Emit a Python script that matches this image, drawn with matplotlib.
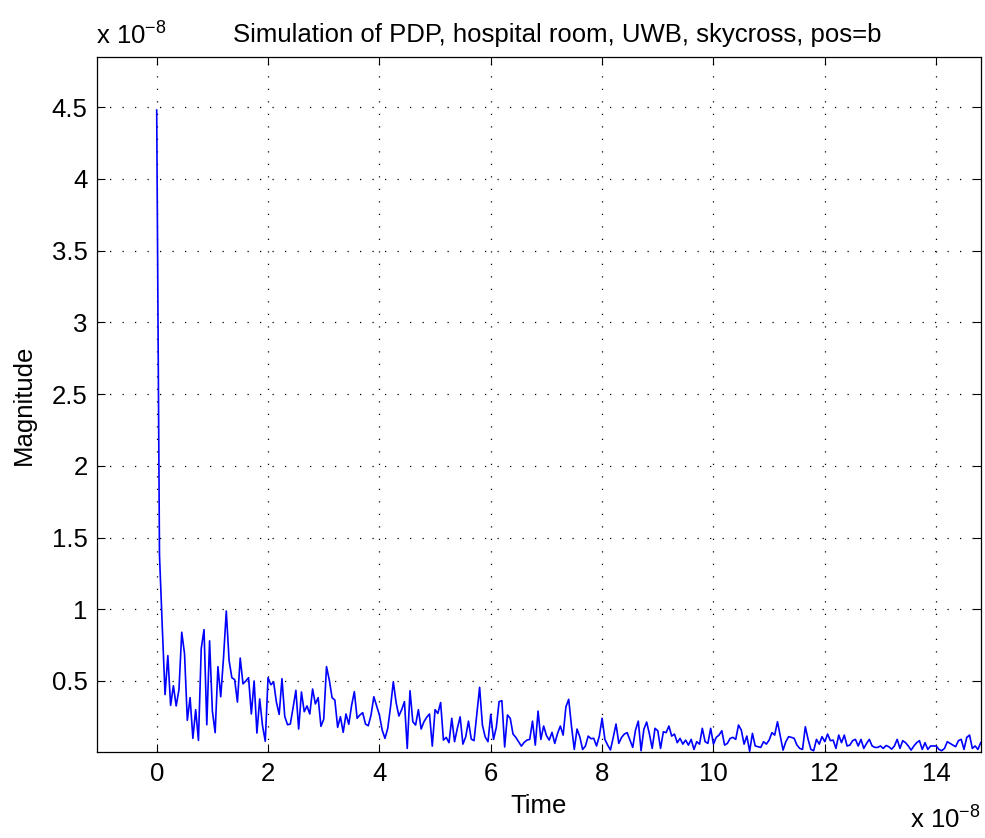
import numpy as np
import matplotlib
matplotlib.use('Agg')
import matplotlib.pyplot as plt

# power delay profile, magnitude in units of 1e-8, one sample every 0.05e-8 s
dt = 0.05
magnitude = [
    4.48, 1.38, 0.88, 0.405, 0.677, 0.33, 0.467, 0.326, 0.44, 0.84,
    0.69, 0.226, 0.384, 0.10, 0.30, 0.086, 0.726, 0.858, 0.195, 0.78,
    0.29, 0.14, 0.60, 0.39, 0.66, 0.988, 0.644, 0.523, 0.51, 0.353,
    0.66, 0.48, 0.50, 0.523, 0.27, 0.50, 0.137, 0.375, 0.19, 0.08,
    0.523, 0.474, 0.493, 0.353, 0.267, 0.516, 0.253, 0.195, 0.20, 0.314,
    0.435, 0.165, 0.423, 0.286, 0.326, 0.27, 0.444, 0.34, 0.384, 0.184,
    0.233, 0.60, 0.507, 0.384, 0.367, 0.177, 0.251, 0.142, 0.27, 0.198,
    0.328, 0.426, 0.24, 0.263, 0.279, 0.20, 0.188, 0.263, 0.39, 0.326,
    0.263, 0.158, 0.10, 0.17, 0.32, 0.495, 0.35, 0.256, 0.30, 0.356,
    0.03, 0.432, 0.216, 0.193, 0.30, 0.165, 0.216, 0.247, 0.27, 0.046,
    0.30, 0.274, 0.35, 0.088, 0.107, 0.07, 0.24, 0.077, 0.17, 0.25,
    0.06, 0.11, 0.22, 0.095, 0.084, 0.27, 0.456, 0.193, 0.11, 0.077,
    0.267, 0.093, 0.177, 0.356, 0.363, 0.04, 0.263, 0.24, 0.13, 0.107,
    0.077, 0.046, 0.072, 0.088, 0.093, 0.22, 0.053, 0.29, 0.093, 0.186,
    0.12, 0.088, 0.142, 0.065, 0.135, 0.186, 0.123, 0.32, 0.372, 0.186,
    0.023, 0.165, 0.11, 0.023, 0.046, 0.116, 0.098, 0.10, 0.047, 0.116,
    0.24, 0.093, 0.053, 0.019, 0.107, 0.20, 0.065, 0.107, 0.13, 0.14,
    0.088, 0.037, 0.158, 0.22, 0.014, 0.163, 0.214, 0.13, 0.03, 0.17,
    0.153, 0.03, 0.146, 0.14, 0.186, 0.116, 0.13, 0.07, 0.10, 0.06,
    0.088, 0.053, 0.093, 0.023, 0.077, 0.06, 0.17, 0.077, 0.065, 0.17,
    0.06, 0.107, 0.123, 0.153, 0.053, 0.065, 0.10, 0.107, 0.093, 0.193,
    0.158, 0.06, 0.116, 0.01, 0.135, 0.047, 0.042, 0.037, 0.077, 0.06,
    0.088, 0.14, 0.123, 0.216, 0.116, 0.018, 0.077, 0.112, 0.107, 0.10,
    0.053, 0.03, 0.023, 0.181, 0.093, 0.023, 0.014, 0.093, 0.06, 0.112,
    0.077, 0.13, 0.084, 0.088, 0.03, 0.123, 0.07, 0.123, 0.047, 0.053,
    0.084, 0.093, 0.047, 0.093, 0.03, 0.065, 0.093, 0.047, 0.037, 0.037,
    0.047, 0.03, 0.05, 0.042, 0.025, 0.047, 0.093, 0.03, 0.084, 0.07,
    0.047, 0.018, 0.047, 0.07, 0.084, 0.023, 0.07, 0.023, 0.047, 0.047,
    0.047, 0.023, 0.014, 0.03, 0.077, 0.065, 0.053, 0.042, 0.084, 0.093,
    0.023, 0.107, 0.123, 0.03, 0.047, 0.023, 0.07,
]
time = dt * np.arange(len(magnitude))

xticks = [0, 2, 4, 6, 8, 10, 12, 14]
yticks = [0.5, 1, 1.5, 2, 2.5, 3, 3.5, 4, 4.5]
ytick_labels = ['0.5', '1', '1.5', '2', '2.5', '3', '3.5', '4', '4.5']

plt.rcParams['font.family'] = ['Liberation Sans', 'DejaVu Sans']
plt.rcParams['mathtext.default'] = 'regular'
fs = 18.5

fig = plt.figure(figsize=(9.85, 8.38), dpi=100)
W, H = 985, 838
ax = fig.add_axes([97.4 / W, 1 - 752 / H, (980.7 - 97.4) / W, (752 - 57) / H])

ax.plot(time, magnitude, color='#0000ff', lw=1.2)

ax.set_xlim(-1.065, 14.8)
ax.set_ylim(0.005, 4.85)
ax.set_xticks(xticks)
ax.set_xticklabels([str(t) for t in xticks])
ax.set_yticks(yticks)
ax.set_yticklabels(ytick_labels)

ax.grid(True, color='black', lw=0.9, linestyle=(0, (1, 9)))
ax.tick_params(direction='in', length=6, width=0.8, top=True, right=True,
               labelsize=fs, pad=7, colors='black')
for s in ax.spines.values():
    s.set_linewidth(0.9)

fig.text(557 / W, 1 - 35 / H, 'Simulation of PDP, hospital room, UWB, skycross, pos=b',
         ha='center', va='center', fontsize=fs)
fig.text(96 / W, 1 - 36 / H, r'x 10$^{-8}$', ha='left', va='center', fontsize=fs)
fig.text(981 / W, 1 - 820 / H, r'x 10$^{-8}$', ha='right', va='center', fontsize=fs)
fig.text(24 / W, 1 - 405 / H, 'Magnitude', rotation=90, ha='center', va='center', fontsize=fs)
fig.text(539 / W, 1 - 806 / H, 'Time', ha='center', va='center', fontsize=fs)

fig.savefig('out.png', dpi=100, facecolor='white')
